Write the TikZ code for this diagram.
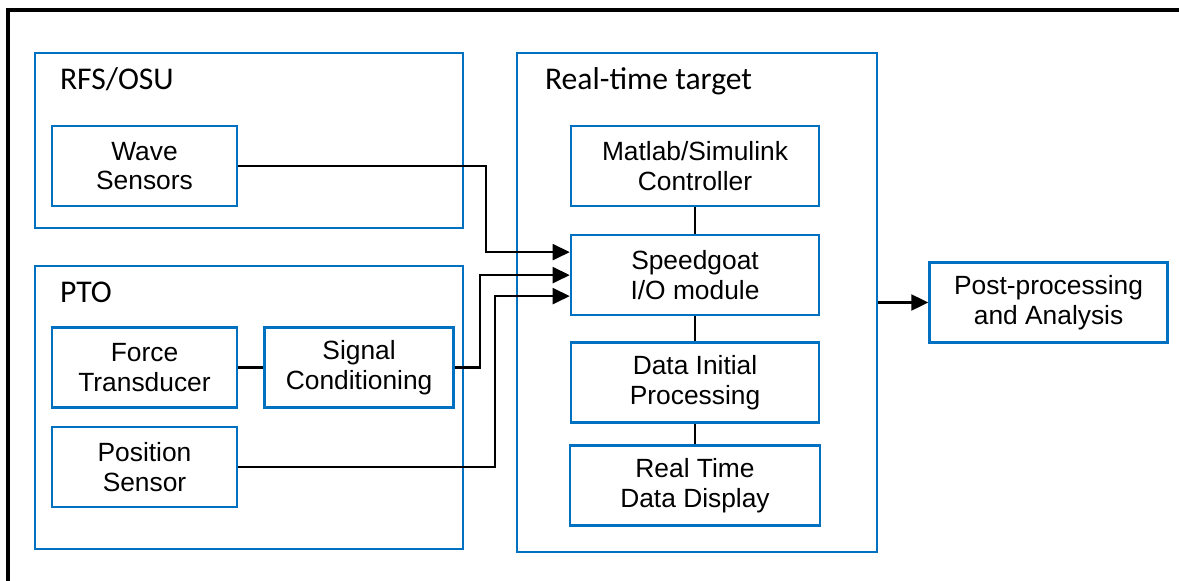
\documentclass[tikz,border=0pt]{standalone}
\usepackage{fontspec}
\setmainfont{Liberation Sans}
\newfontfamily\titlefont{Carlito}
\usetikzlibrary{positioning,calc}
\usetikzlibrary{arrows.meta}
\definecolor{boxblue}{RGB}{0,112,192}

\begin{document}
\begin{tikzpicture}[x=0.02cm,y=-0.02cm,
         group/.style = {draw=boxblue,line width=1.5pt,inner sep=0pt},
         block/.style = {draw=boxblue,line width=1.5pt,inner sep=0pt,
         minimum width=3.7cm,minimum height=1.6cm,align=center,
         font=\fontsize{15}{17}\selectfont},
         rtblock/.style = {block,minimum width=4.96cm},
         grouptitle/.style = {anchor=base west,inner sep=0pt,
         font=\titlefont\fontsize{18}{21}\selectfont},
         wire/.style = {line width=1.3pt},
         signal/.style = {wire,-{Triangle[length=0.34cm,width=0.32cm]}}
]

      \useasboundingbox (0,0) rectangle (1179,581);

      % outer frame
      \draw[line width=1.8pt] (8,581) |- (1179,10);

      % groups
      \node[group,minimum width=8.56cm,minimum height=3.5cm]  (rfs) at (249,140.5) {};
      \node[group,minimum width=8.56cm,minimum height=5.66cm] (pto) at (249,407.5) {};
      \node[group,minimum width=7.2cm,minimum height=9.98cm]  (rt)  at (697,302.5) {};

      \node[grouptitle] at ($(rfs.north west)+(26,38)$) {RFS/OSU};
      \node[grouptitle] at ($(pto.north west)+(26,38)$) {PTO};
      \node[grouptitle] at ($(rt.north west)+(29,38)$)  {Real-time target};

      % sensors
      \node[block] (wave)  at (144.5,166)   {Wave\\Sensors};
      \node[block] (force) at (144.5,367.5) {Force\\Transducer};
      \node[block,minimum width=3.78cm,right=0.5cm of force] (cond) {Signal\\Conditioning};
      \node[block,below=0.34cm of force] (pos) {Position\\Sensor};

      % real-time target
      \node[rtblock] (ctrl) at (695,166)   {Matlab/Simulink\\Controller};
      \node[rtblock,below=0.53cm of ctrl]  (io)   {Speedgoat\\I/O module};
      \node[rtblock,below=0.5cm of io]     (proc) {Data Initial\\Processing};
      \node[rtblock,minimum width=5cm,below=0.4cm of proc] (disp) {Real Time\\Data Display};

      \node[block,minimum width=4.76cm,right=1.0cm of rt] (post) {Post-processing\\and Analysis};

      % connections
      \draw[wire] (force) -- (cond);
      \draw[wire] (ctrl) -- (io);
      \draw[wire] (io) -- (proc);
      \draw[wire] (proc) -- (disp);

      \draw[signal] (wave.east) -| ($(io.west)+(-84,-23)$) -- ($(io.west)+(0,-23)$);
      \draw[signal] (cond.east) -| ($(io.west)+(-90,0)$) -- (io.west);
      \draw[signal] (pos.east)  -| ($(io.west)+(-75,21)$) -- ($(io.west)+(0,21)$);

      \draw[signal] (rt.east) -- (post.west);

\end{tikzpicture}
\end{document}
